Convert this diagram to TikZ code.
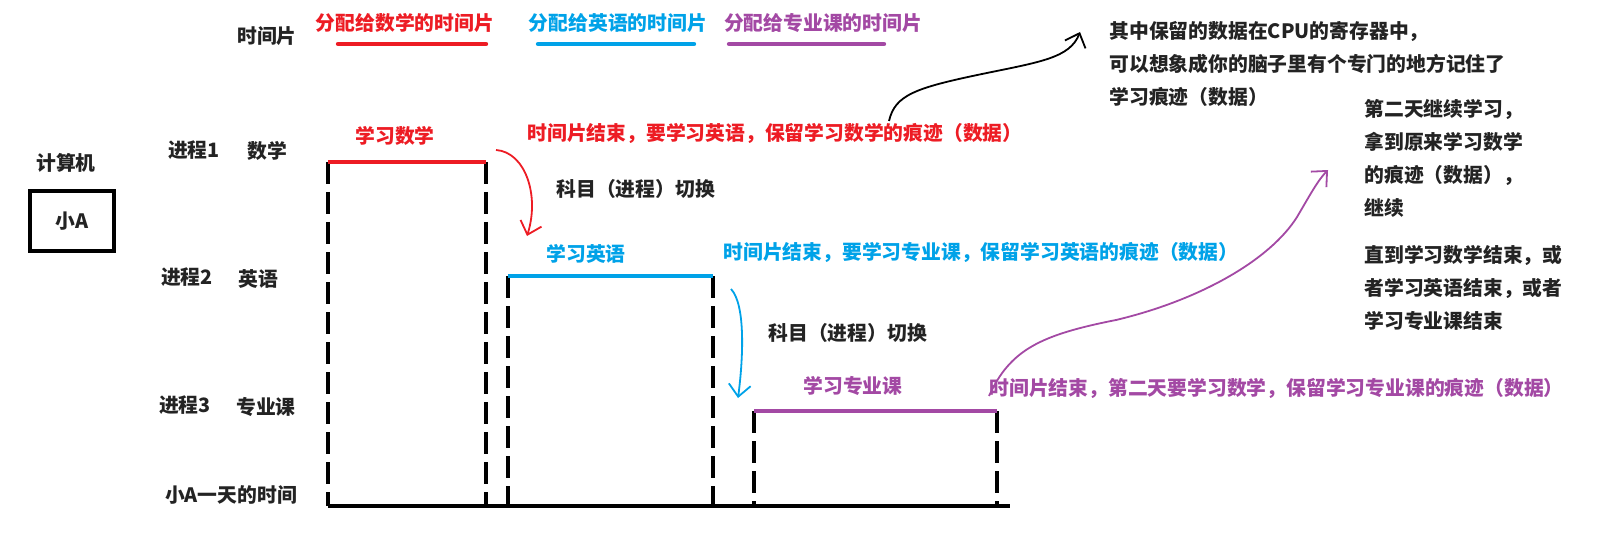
\documentclass[tikz,border=0pt]{standalone}
\usepackage{fontspec}
\setmainfont{Noto Sans CJK SC}
\usetikzlibrary{arrows.meta,positioning}
\definecolor{ink}{RGB}{35,35,35}
\definecolor{mathred}{RGB}{237,28,36}
\definecolor{engblue}{RGB}{0,162,232}
\definecolor{majpurple}{RGB}{163,73,164}
\tikzset{
  every picture/.style={color=ink, line width=0.5pt, font=\bfseries\fontsize{9.9}{12}\selectfont},
  lbl/.style={inner sep=0pt, text=ink},
  note/.style={lbl, anchor=west, align=left, font=\bfseries\fontsize{9.9}{16.5}\selectfont},
  cpubox/.style={draw=black, line width=2pt, minimum width=42pt, minimum height=30pt, inner sep=0pt},
  slotline/.style={line width=2.2pt, line cap=round},
  bar/.style={line width=2pt},
  cut/.style={line width=2pt, color=black, dash pattern=on 11pt off 4pt},
  axisline/.style={line width=1.6pt, color=black},
  pen/.style={line width=0.9pt, -{Straight Barb[length=6pt,width=11pt]}},
}

\begin{document}
\begin{tikzpicture}[x=0.5pt, y=-0.5pt]
  \useasboundingbox (0,0) rectangle (1620,534);
  % time slices handed out
  \node[lbl] (slice) at (267,36) {时间片};
  \node[lbl, text=mathred] (slotM) at (405,23) {分配给数学的时间片};
  \node[lbl, text=engblue] (slotE) at (618,23) {分配给英语的时间片};
  \node[lbl, text=majpurple] (slotP) at (823,23) {分配给专业课的时间片};
  \draw[slotline, mathred] (338,44) -- (486,44);
  \draw[slotline, engblue] (538,44) -- (694,44);
  \draw[slotline, majpurple] (729,44) -- (884,44);

  % the computer and its processes
  \node[lbl] (cpu) at (66,163) {计算机};
  \node[cpubox] (xa) at (72,221) {小A};
  \node[lbl] (p1) at (194,150) {进程1};
  \node[lbl] (s1) at (267,151) {数学};
  \node[lbl] (p2) at (187,277) {进程2};
  \node[lbl] (s2) at (258,279) {英语};
  \node[lbl] (p3) at (185,405) {进程3};
  \node[lbl] (s3) at (266,407) {专业课};
  \node[lbl] (day) at (231,495) {小A一天的时间};

  % one bar per subject on the day axis
  \foreach \a/\b/\y/\c in {328/486/162/mathred, 508/713/276/engblue, 754/997/411/majpurple}{
    \draw[cut] (\a,\y) -- (\a,506);
    \draw[cut] (\b,\y) -- (\b,506);
    \draw[bar, \c] (\a,\y) -- (\b,\y);
  }
  \draw[axisline] (328,506) -- (1010,506);

  \node[lbl, text=mathred] (studyM) at (395,136) {学习数学};
  \node[lbl, text=engblue] (studyE) at (586,254) {学习英语};
  \node[lbl, text=majpurple] (studyP) at (853,386) {学习专业课};
  \node[lbl, anchor=west, text=mathred] (endM) at (527,133) {时间片结束，要学习英语，保留学习数学的痕迹（数据）};
  \node[lbl, anchor=west, text=engblue] (endE) at (723,252) {时间片结束，要学习专业课，保留学习英语的痕迹（数据）};
  \node[lbl, anchor=west, text=majpurple] (endP) at (989,388) {时间片结束，第二天要学习数学，保留学习专业课的痕迹（数据）};
  \node[lbl, anchor=west] (sw1) at (556,189) {科目（进程）切换};
  \node[lbl, anchor=west] (sw2) at (768,333) {科目（进程）切换};

  % notes on the right
  \node[note] (reg) at (1109,64) {其中保留的数据在CPU的寄存器中，\\可以想象成你的脑子里有个专门的地方记住了\\学习痕迹（数据）};
  \node[note] (next) at (1364,158) {第二天继续学习，\\拿到原来学习数学\\的痕迹（数据），\\继续};
  \node[note] (done) at (1364,288) {直到学习数学结束，或\\者学习英语结束，或者\\学习专业课结束};

  % hand drawn arrows
  \coordinate (swM) at (496,150);
  \coordinate (swE) at (527,236);
  \coordinate (swE2) at (731,289);
  \coordinate (swP) at (738,398);
  \coordinate (keepM) at (889,121);
  \coordinate (regtip) at (1080,32);
  \coordinate (keepP) at (989,396);
  \coordinate (nexttip) at (1328,170);
  \draw[pen, mathred] (swM) .. controls (525,152) and (540,195) .. (swE);
  \draw[pen, engblue] (swE2) .. controls (746,305) and (743,360) .. (swP);
  \draw[pen, black] (keepM) .. controls (895,95) and (915,88) .. (982,74) .. controls (1040,62) and (1070,58) .. (regtip);
  \draw[pen, majpurple] (keepP) .. controls (1010,350) and (1040,335) .. (1116,320) .. controls (1200,300) and (1270,260) .. (1297,217) .. controls (1310,195) and (1318,180) .. (nexttip);
\end{tikzpicture}
\end{document}
